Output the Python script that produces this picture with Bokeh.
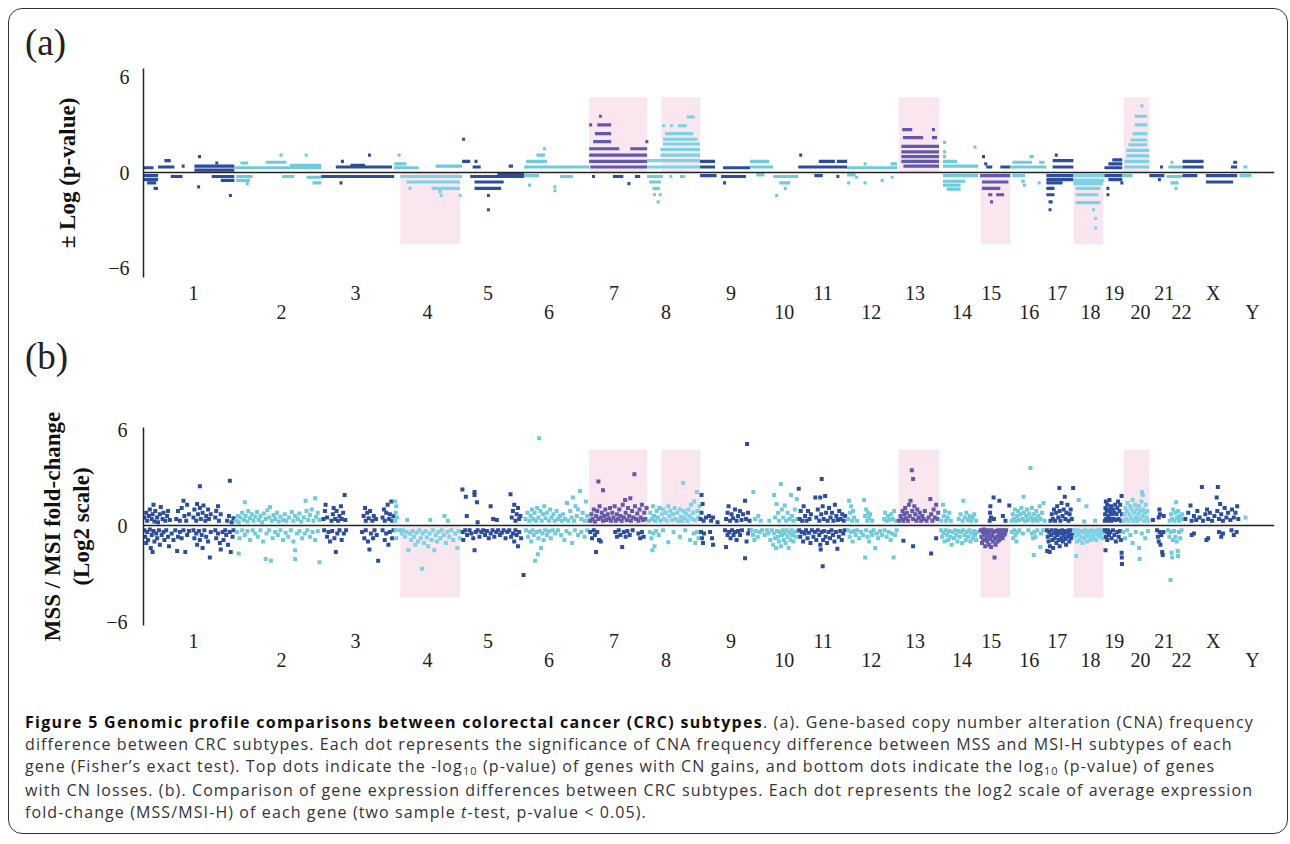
from bokeh.plotting import figure
from bokeh.models import Range1d, FixedTicker, LinearAxis, Span, Div
from bokeh.layouts import column
from bokeh.embed import file_html
from bokeh.resources import INLINE

# ---------------- data ----------------
CHROMS = ["1", "2", "3", "4", "5", "6", "7", "8", "9", "10", "11", "12",
          "13", "14", "15", "16", "17", "18", "19", "20", "21", "22", "X", "Y"]
CHROM_LEN = [249, 238, 200, 186, 170, 178, 159, 145, 137, 132, 134, 137,
             115, 107, 88, 99, 74, 85, 49, 74, 47, 44, 156, 33]
# where each chromosome's label sits, as % of the chromosome's span
LABEL_PCT = [55, 54, 47, 49, 42, 38, 43, 36, 62, 71, 51, 48,
             43, 59, 41, 53, 41, 55, 56, 67, 88, 94, 54, 108]
Y_TICKS = [-6, 0, 6]

# highlighted (pink) regions: chromosome, side, start %, end %
HL_CHROM = ["4", "7", "8", "13", "15", "18", "20"]
HL_SIGN = [-1, 1, 1, 1, -1, -1, 1]
HL_FROM = [9, 0, 27, 4, 8, 1, 5]
HL_TO = [97, 100, 100, 100, 100, 96, 100]
HL_TOP = 4.75
HL_BOTTOM = -4.5

# (a) CNA runs per chromosome: (start %, end %, +/- log p-value)
CNA_1 = [(0, 11, 0.3), (16, 34, 0.35), (23, 30, 0.75), (42, 43, 0.4), (56, 100, 0.15), (56, 100, 0.4),
         (60, 61, 1.0), (79, 81, 0.6), (0, 16, -0.2), (0, 16, -0.45), (4, 14, -0.65), (11, 16, -1.0),
         (30, 43, -0.25), (59, 60, -0.9), (75, 100, -0.25), (85, 100, -0.5), (94, 95, -1.45)]
CNA_2 = [(0, 100, 0.3), (7, 16, 0.6), (36, 60, 0.65), (52, 53, 1.1), (81, 82, 1.1), (64, 100, 0.45),
         (2, 21, -0.25), (2, 18, -0.5), (13, 14, -0.7), (55, 69, -0.25), (83, 100, -0.3), (90, 100, -0.65)]
CNA_3 = [(20, 97, 0.35), (40, 60, 0.45), (27, 28, 0.7), (64, 65, 1.1), (0, 100, -0.25), (25, 27, -0.65)]
CNA_4 = [(0, 36, 0.3), (0, 18, 0.55), (5, 6, 1.1), (61, 100, 0.4), (9, 100, -0.25), (18, 97, -0.6),
         (55, 97, -1.0), (65, 70, -1.2), (67, 68, -1.45), (95, 96, -1.45), (21, 22, -1.0)]
CNA_5 = [(0, 13, 0.7), (0, 1, 2.1), (17, 30, 0.35), (20, 21, 0.7), (75, 82, 0.4), (13, 100, -0.25),
         (20, 67, -0.6), (20, 63, -1.0), (40, 41, -1.45), (40, 41, -2.35), (57, 100, -0.12)]
CNA_6 = [(0, 100, 0.35), (3, 35, 0.7), (19, 32, 1.1), (29, 30, 1.5), (0, 23, -0.2), (6, 7, -0.8),
         (45, 46, -0.9), (45, 46, -1.15), (55, 75, -0.25)]
CNA_7 = [(17, 18, 3.55), (0, 1, 3.0), (14, 38, 3.0), (10, 38, 2.45), (7, 38, 1.95), (97, 99, 1.95),
         (0, 52, 1.5), (71, 100, 1.5), (0, 100, 1.1), (0, 100, 0.7), (2, 100, 0.35),
         (5, 6, -0.25), (41, 59, -0.25), (79, 88, -0.25), (66, 67, -0.7)]
CNA_8 = [(0, 100, 0.35), (0, 100, 0.75), (25, 100, 1.1), (25, 100, 1.45), (30, 100, 1.8), (30, 95, 2.1),
         (34, 87, 2.45), (28, 34, 2.95), (43, 49, 2.95), (58, 75, 2.95), (75, 90, 3.5),
         (0, 30, -0.25), (42, 47, -0.25), (62, 72, -0.25), (4, 26, -0.6), (10, 24, -1.0),
         (11, 13, -1.4), (22, 24, -1.4), (18, 19, -1.85)]
CNA_9 = [(0, 30, 0.7), (0, 30, 0.35), (46, 100, 0.3), (0, 33, -0.2), (42, 92, -0.25), (46, 47, -0.65)]
CNA_10 = [(0, 48, 0.35), (0, 40, 0.7), (13, 30, -0.15), (48, 100, -0.25), (61, 83, -0.65),
          (70, 71, -1.0), (52, 53, -1.45)]
CNA_11 = [(2, 3, 1.1), (0, 100, 0.35), (42, 75, 0.7), (79, 100, 0.7), (33, 50, -0.2), (78, 80, -0.25)]
CNA_12 = [(0, 100, 0.3), (33, 34, 0.55), (87, 100, 0.55), (0, 17, -0.15), (0, 1, -0.65), (16, 17, -0.3),
          (33, 34, -0.65), (67, 68, -0.5), (87, 88, -0.3)]
CNA_13 = [(12, 36, 2.7), (83, 90, 2.7), (14, 62, 2.2), (83, 95, 2.2), (10, 100, 1.65), (10, 100, 1.3),
          (10, 100, 1.0), (10, 100, 0.7), (15, 100, 0.4)]
CNA_14 = [(10, 11, 1.9), (10, 11, 1.3), (10, 15, 1.0), (10, 46, 0.7), (10, 100, 0.4), (88, 89, 1.6),
          (10, 100, -0.2), (10, 67, -0.55), (10, 55, -0.8), (20, 55, -1.05)]
CNA_15 = [(12, 13, 1.0), (19, 20, 0.55), (25, 44, 0.35), (69, 100, 0.35), (6, 100, -0.2), (12, 94, -0.6),
          (12, 69, -1.0), (31, 44, -1.4), (56, 81, -1.4), (37, 38, -1.85)]
CNA_16 = [(0, 100, 0.35), (6, 60, 0.65), (53, 65, 1.0), (80, 95, 0.65), (6, 41, -0.2), (30, 40, -0.55),
          (35, 36, -0.8), (76, 77, -0.65)]
CNA_17 = [(23, 100, 0.35), (23, 100, 0.75), (31, 32, 1.1), (0, 100, -0.2), (0, 100, -0.45), (0, 60, -0.65),
          (0, 30, -1.0), (0, 30, -1.4), (8, 23, -1.85), (8, 9, -2.35)]
CNA_18 = [(0, 100, -0.2), (0, 100, -0.5), (0, 95, -0.7), (7, 87, -1.0), (7, 80, -1.4), (7, 87, -1.9),
          (60, 61, -2.35), (67, 68, -2.9), (67, 68, -3.5)]
CNA_19 = [(0, 100, 0.3), (22, 100, 0.55), (44, 100, 0.8), (0, 100, -0.2), (22, 100, -0.45), (11, 12, -1.0),
          (11, 12, -1.4), (89, 90, -0.65)]
CNA_20 = [(8, 100, 0.35), (8, 100, 0.7), (15, 100, 1.05), (15, 100, 1.4), (23, 92, 1.75), (31, 92, 2.05),
          (38, 92, 2.45), (46, 92, 3.0), (46, 92, 3.55), (67, 72, 4.2), (0, 38, -0.2)]
CNA_21 = [(62, 63, 0.35), (0, 88, -0.2), (50, 51, -0.45)]
CNA_22 = [(12, 100, 0.35), (25, 26, 0.65), (0, 100, -0.25), (25, 75, -0.65), (50, 60, -1.0)]
CNA_X = [(0, 37, 0.35), (0, 37, 0.7), (85, 96, 0.35), (89, 96, 0.65), (0, 26, -0.2), (41, 96, -0.2),
         (41, 89, -0.6)]
CNA_Y = [(33, 66, 0.35), (0, 100, -0.2)]

# (b) expression fold-change dots per chromosome: (position %, log2 fold-change)
EXPR_1 = [(1, 0.5), (3, 0.8), (4, 0.3), (6, 0.6), (7, 1.0), (9, 0.4), (10, 0.7), (11, 1.3), (12, 0.25), (13, 0.9),
          (15, 0.5), (16, 0.2), (18, 0.7), (19, 1.15), (21, 0.4), (22, 0.8), (24, 0.3), (26, 0.6), (27, 0.9),
          (29, 0.35), (36, 0.4), (38, 0.9), (40, 0.3), (42, 1.1), (44, 1.55), (45, 0.6), (47, 0.3), (48, 1.3),
          (50, 0.7), (55, 0.5), (56, 1.0), (58, 0.3), (59, 1.35), (60, 0.7), (62, 2.45), (62, 1.1), (63, 0.4),
          (65, 0.8), (66, 1.25), (68, 0.3), (69, 0.6), (71, 1.0), (72, 0.4), (74, 0.7), (79, 0.5), (80, 0.9),
          (82, 1.2), (83, 0.3), (85, 0.7), (92, 0.3), (94, 0.6), (95, 2.8), (97, 0.2), (99, 0.45),
          (1, -0.3), (2, -0.7), (3, -1.1), (4, -0.4), (5, -0.9), (7, -0.25), (8, -1.4), (9, -0.6), (10, -1.65),
          (11, -0.35), (12, -1.0), (14, -0.5), (15, -0.8), (17, -0.3), (18, -1.2), (20, -0.6), (22, -0.4),
          (23, -0.9), (25, -0.3), (27, -0.7), (28, -1.3), (31, -0.5), (33, -0.9), (35, -0.3), (37, -1.6),
          (38, -0.7), (40, -0.4), (42, -0.8), (44, -0.3), (46, -1.65), (48, -0.6), (50, -0.35), (55, -0.3),
          (56, -0.8), (58, -0.5), (59, -1.2), (61, -0.35), (62, -0.9), (64, -0.6), (65, -1.4), (67, -0.3),
          (69, -0.7), (71, -1.0), (73, -2.0), (74, -0.4), (79, -0.3), (80, -0.8), (82, -0.5), (84, -1.1),
          (85, -1.5), (87, -0.4), (88, -0.9), (90, -0.3), (91, -0.6), (93, -1.2), (95, -0.4), (96, -1.65),
          (98, -0.7), (99, -0.3)]
EXPR_2 = [(2, 0.3), (4, 0.6), (5, 0.2), (7, 0.5), (9, 0.8), (11, 0.35), (12, 1.45), (13, 0.6), (15, 0.25),
          (16, 0.9), (18, 0.45), (20, 0.7), (22, 0.3), (24, 0.55), (26, 0.85), (28, 0.35), (30, 0.6), (32, 0.2),
          (34, 0.75), (36, 0.4), (38, 0.95), (40, 0.5), (41, 1.15), (43, 0.3), (45, 0.65), (47, 0.4), (49, 0.8),
          (51, 0.25), (53, 0.55), (56, 0.35), (58, 0.7), (60, 0.3), (63, 0.5), (66, 0.85), (68, 0.3), (70, 0.6),
          (73, 0.4), (75, 0.75), (77, 0.25), (80, 0.5), (82, 1.55), (83, 0.9), (85, 0.35), (87, 0.65), (89, 1.0),
          (91, 0.3), (93, 1.7), (94, 0.55), (96, 0.8), (98, 0.35),
          (3, -0.4), (5, -1.75), (6, -0.8), (9, -0.3), (12, -0.6), (15, -0.35), (18, -0.9), (21, -0.3),
          (24, -0.5), (27, -0.7), (30, -0.3), (33, -1.0), (36, -2.1), (37, -0.5), (40, -0.3), (42, -2.2),
          (44, -0.8), (47, -0.4), (50, -0.6), (53, -0.3), (56, -0.9), (59, -0.45), (62, -0.7), (65, -0.3),
          (68, -1.0), (70, -1.55), (70, -2.1), (72, -0.5), (75, -0.35), (78, -0.8), (81, -0.5), (84, -0.3),
          (87, -0.7), (90, -0.4), (93, -0.9), (96, -0.35), (98, -2.3)]
EXPR_3 = [(3, 0.4), (5, 0.9), (6, 1.3), (8, 0.5), (14, 0.3), (16, 0.7), (17, 1.1), (19, 0.4), (21, 0.9),
          (23, 0.3), (25, 0.6), (27, 1.2), (28, 0.4), (30, 0.8), (32, 1.9), (33, 0.35), (58, 0.6), (60, 1.1),
          (61, 0.3), (63, 0.8), (65, 0.45), (67, 0.9), (70, 0.3), (72, 0.6), (75, 0.4), (84, 0.5), (86, 1.0),
          (87, 0.3), (89, 0.8), (91, 1.3), (93, 0.4), (94, 0.7), (96, 1.5), (97, 0.3), (99, 0.6),
          (4, -0.3), (8, -0.7), (10, -0.4), (12, -1.0), (15, -0.35), (18, -0.8), (20, -1.65), (22, -0.5),
          (25, -0.3), (28, -0.9), (31, -0.5), (34, -0.3), (56, -0.4), (59, -0.8), (61, -0.3), (64, -1.0),
          (66, -1.5), (68, -0.5), (71, -0.8), (73, -0.3), (76, -0.6), (78, -2.2), (84, -0.3), (87, -0.9),
          (89, -0.5), (92, -1.2), (94, -0.4), (97, -0.8), (99, -0.3)]
EXPR_4 = [(1, 0.3), (2, 0.8), (3, 1.2), (4, 0.5), (1, 1.5), (19, 0.35), (53, 0.35), (74, 0.6), (79, 0.3),
          (2, -0.3), (3, -0.8), (8, -0.3), (11, -0.5), (13, -0.3), (16, -0.7), (18, -0.4), (21, -1.55),
          (23, -0.5), (25, -0.9), (27, -0.35), (29, -0.7), (31, -1.2), (33, -0.45), (35, -1.0), (37, -0.3),
          (39, -0.8), (41, -2.7), (42, -0.5), (44, -1.1), (46, -0.35), (48, -0.75), (50, -1.3), (52, -0.5),
          (55, -0.9), (57, -0.3), (59, -1.55), (61, -0.6), (63, -1.0), (65, -0.4), (68, -0.8), (70, -0.3),
          (73, -0.6), (76, -1.1), (78, -0.4), (81, -0.7), (84, -0.3), (87, -0.9), (90, -0.5), (93, -1.4),
          (95, -0.35), (97, -0.8)]
EXPR_5 = [(0.5, 2.25), (6, 1.8), (7.5, 0.6), (20, 2.1), (20, 1.9), (24, 1.45), (25, 0.2), (46, 1.2), (50, 0.4),
          (56, 0.35), (78, 1.95), (80, 0.5), (82, 0.9), (84, 1.3), (86, 0.3), (88, 0.7), (90, 1.1), (92, 0.4),
          (94, 0.6),
          (1, -0.4), (2, -0.9), (5, -0.3), (8, -0.6), (12, -0.3), (15, -0.5), (18, -0.8), (20, -1.55),
          (22, -0.4), (25, -0.3), (28, -0.7), (31, -0.4), (34, -0.3), (37, -0.6), (40, -0.35), (43, -0.8),
          (46, -0.5), (49, -0.3), (52, -0.7), (55, -0.4), (58, -0.3), (61, -0.6), (64, -0.45), (67, -0.3),
          (70, -0.8), (73, -0.4), (76, -0.3), (79, -0.7), (82, -0.5), (84, -1.0), (86, -0.3), (88, -0.6),
          (90, -1.3), (92, -0.4), (95, -0.8), (99, -3.1)]
EXPR_6 = [(2, 0.4), (5, 0.8), (8, 0.3), (10, 0.6), (12, 1.0), (14, 0.4), (16, 0.8), (18, 0.3), (20, 1.1),
          (22, 0.5), (23, 5.45), (25, 0.9), (27, 0.3), (29, 0.7), (31, 1.2), (33, 0.45), (35, 0.8), (38, 0.3),
          (40, 1.0), (42, 0.5), (45, 0.7), (47, 0.3), (50, 0.9), (52, 0.4), (55, 0.6), (58, 0.3), (60, 0.7),
          (63, 0.4), (66, 1.4), (68, 0.3), (71, 0.9), (73, 0.5), (75, 1.75), (77, 0.3), (79, 1.2), (81, 0.6),
          (83, 1.0), (86, 2.15), (88, 0.4), (90, 0.8), (93, 0.3), (95, 1.5), (97, 0.6), (99, 0.3),
          (3, -0.3), (6, -0.7), (9, -0.4), (11, -1.0), (13, -0.3), (15, -0.6), (17, -2.2), (19, -0.4),
          (21, -1.8), (22, -0.8), (24, -0.35), (26, -1.4), (28, -0.5), (30, -0.9), (32, -0.3), (35, -0.6),
          (38, -0.35), (41, -0.8), (44, -0.3), (48, -0.5), (52, -0.3), (57, -0.6), (62, -0.9), (65, -0.35),
          (70, -0.5), (74, -1.1), (78, -0.3), (83, -0.6), (88, -0.4), (93, -0.7), (97, -0.3)]
EXPR_7 = [(2, 0.3), (4, 0.7), (6, 0.4), (8, 1.0), (10, 0.25), (12, 0.6), (14, 0.9), (16, 2.75), (16, 0.4),
          (18, 1.2), (20, 0.5), (22, 0.8), (24, 2.2), (24, 0.3), (26, 0.6), (28, 1.0), (30, 0.35), (32, 0.7),
          (34, 0.45), (36, 1.1), (38, 0.3), (40, 0.8), (42, 0.5), (44, 1.2), (46, 0.3), (48, 0.7), (50, 0.4),
          (52, 1.0), (54, 0.6), (56, 0.3), (58, 1.3), (60, 0.5), (62, 1.6), (63, 0.8), (65, 0.35), (67, 1.1),
          (69, 0.6), (71, 1.7), (72, 0.3), (74, 0.9), (76, 0.5), (78, 3.2), (79, 1.2), (81, 0.4), (83, 0.75),
          (85, 0.3), (87, 1.0), (89, 0.5), (91, 1.3), (93, 0.35), (95, 0.8), (97, 0.4), (99, 1.1),
          (2, -0.4), (5, -0.8), (8, -0.3), (10, -0.6), (12, -1.65), (14, -0.4), (17, -0.9), (20, -1.0),
          (45, -0.4), (48, -0.7), (51, -0.3), (54, -0.6), (57, -1.35), (60, -0.4), (63, -0.7), (66, -0.35),
          (70, -0.6), (75, -0.3), (85, -0.5), (88, -0.8), (91, -0.4), (94, -0.7)]
EXPR_8 = [(3, 0.3), (6, 0.8), (9, 0.4), (11, 1.2), (13, 0.6), (15, 0.3), (18, 0.9), (20, 0.5), (23, 1.1),
          (25, 0.3), (28, 0.7), (30, 1.0), (32, 0.4), (35, 0.8), (37, 0.3), (40, 1.2), (42, 0.6), (44, 0.9),
          (47, 0.35), (49, 0.7), (52, 1.1), (54, 0.4), (57, 0.8), (59, 0.3), (62, 1.0), (64, 0.55), (66, 0.3),
          (68, 2.65), (69, 0.9), (71, 0.45), (73, 0.75), (76, 0.3), (78, 1.0), (80, 0.6), (83, 1.3), (85, 0.4),
          (87, 0.8), (89, 1.5), (91, 0.35), (94, 2.1), (95, 0.9), (97, 0.5), (99, 1.2),
          (5, -0.4), (8, -0.8), (10, -1.55), (12, -0.5), (14, -1.3), (17, -0.35), (22, -0.6), (30, -0.3),
          (40, -1.05), (50, -0.4), (62, -0.7), (72, -0.3), (81, -0.9), (88, -0.5), (91, -1.1), (94, -0.4),
          (97, -0.8)]
EXPR_9 = [(1, 0.4), (3, 1.9), (3, 0.8), (5, 1.35), (7, 0.3), (12, 0.5), (18, 0.6), (22, 0.3), (26, 0.5),
          (35, 0.2), (52, 0.4), (55, 0.8), (57, 1.2), (60, 0.3), (63, 0.7), (66, 0.45), (70, 1.0), (73, 0.3),
          (76, 0.6), (80, 0.9), (83, 0.35), (86, 0.7), (90, 1.55), (92, 0.4), (94, 5.1), (96, 0.8), (99, 0.3),
          (2, -0.4), (4, -0.8), (6, -1.1), (8, -0.5), (20, -0.4), (24, -0.8), (26, -1.2), (50, -0.3),
          (52, -1.35), (55, -0.6), (58, -0.4), (61, -0.8), (64, -0.3), (67, -0.6), (70, -0.4), (73, -0.9),
          (76, -0.35), (80, -0.6), (84, -0.3), (90, -2.05), (93, -1.0), (96, -0.5), (99, -0.3)]
EXPR_10 = [(7, 2.1), (10, 0.4), (17, 0.6), (22, 0.3), (40, 0.3), (50, 1.9), (52, 0.5), (55, 1.35), (58, 0.8),
           (60, 0.3), (64, 2.6), (66, 1.0), (69, 0.5), (72, 1.25), (75, 0.3), (78, 0.8), (82, 0.4), (85, 1.9),
           (87, 0.6), (90, 0.3), (93, 1.0), (97, 1.65), (98, 0.4),
           (3, -0.3), (6, -0.6), (9, -0.9), (12, -0.35), (16, -0.7), (20, -0.4), (25, -0.3), (30, -0.6),
           (35, -0.3), (38, -0.5), (42, -0.9), (45, -0.3), (48, -1.2), (50, -0.5), (52, -0.8), (54, -1.4),
           (56, -0.35), (58, -0.7), (60, -1.0), (62, -0.4), (64, -1.3), (66, -0.6), (68, -0.3), (70, -0.9),
           (72, -0.5), (74, -1.1), (76, -0.3), (78, -0.7), (80, -1.4), (82, -0.45), (84, -0.9), (86, -0.3),
           (88, -0.6), (90, -1.0), (92, -0.4), (95, -0.7), (98, -0.35)]
EXPR_11 = [(1, 2.3), (3, 0.4), (5, 0.9), (8, 0.3), (11, 1.2), (14, 0.6), (17, 0.3), (20, 0.9), (23, 0.4),
           (26, 0.7), (35, 1.75), (37, 0.5), (40, 1.0), (43, 0.3), (45, 1.75), (47, 0.7), (48, 2.9), (50, 1.2),
           (52, 0.4), (55, 1.85), (57, 0.8), (60, 0.3), (63, 1.1), (66, 0.5), (69, 0.8), (72, 0.3), (75, 1.3),
           (78, 0.6), (81, 0.35), (84, 0.9), (87, 0.4), (90, 0.7), (93, 0.3), (96, 0.6),
           (2, -0.3), (4, -0.7), (7, -0.4), (10, -1.0), (13, -0.5), (16, -0.3), (19, -0.8), (22, -0.45),
           (25, -1.1), (28, -0.3), (31, -0.7), (34, -0.4), (37, -0.9), (40, -0.3), (43, -0.6), (45, -1.2),
           (46, -1.5), (48, -0.4), (50, -2.55), (51, -0.9), (53, -0.35), (56, -0.7), (59, -1.1), (62, -0.4),
           (65, -0.8), (68, -0.3), (71, -0.6), (74, -1.0), (77, -0.4), (80, -1.45), (83, -0.7), (86, -0.35),
           (89, -0.9), (92, -0.5), (95, -0.3)]
EXPR_12 = [(2, 0.4), (4, 1.55), (6, 0.8), (8, 1.2), (10, 0.3), (12, 0.9), (14, 0.5), (20, 0.3), (34, 1.6),
           (36, 0.6), (38, 1.0), (40, 0.3), (42, 0.8), (44, 0.45), (46, 0.7), (50, 0.3), (74, 0.4), (76, 0.8),
           (79, 0.3), (82, 0.6), (85, 0.35), (88, 0.7), (91, 0.4), (94, 0.9), (97, 0.3),
           (2, -0.3), (5, -0.7), (8, -0.4), (11, -1.0), (14, -0.35), (17, -0.6), (20, -0.3), (24, -0.8),
           (28, -0.4), (32, -0.6), (36, -2.0), (38, -0.3), (41, -0.7), (44, -1.0), (47, -0.4), (50, -0.6),
           (53, -0.3), (56, -1.4), (59, -0.5), (62, -0.8), (66, -0.35), (70, -0.6), (75, -0.3), (79, -0.7),
           (83, -0.4), (87, -0.9), (90, -0.5), (93, -2.0), (96, -0.6), (99, -0.3)]
EXPR_13 = [(4, 0.3), (8, 0.6), (11, 0.4), (13, 0.9), (15, 0.3), (17, 0.7), (19, 1.1), (21, 0.45), (23, 0.8),
           (26, 0.3), (28, 1.3), (30, 0.6), (32, 1.55), (35, 3.45), (36, 0.9), (38, 2.9), (38, 0.4), (41, 1.2),
           (43, 0.7), (46, 0.3), (48, 1.0), (51, 0.5), (54, 0.8), (57, 0.3), (60, 0.6), (63, 0.4), (66, 0.9),
           (70, 0.3), (75, 0.5), (79, 1.65), (81, 0.7), (84, 0.3), (87, 1.0), (90, 0.5), (93, 1.3), (96, 0.4),
           (98, 0.8),
           (15, -0.95), (38, -1.3), (81, -1.75), (93, -0.8)]
EXPR_14 = [(6, 0.3), (10, 1.3), (12, 0.6), (15, 0.9), (18, 0.3), (22, 0.5), (26, 0.8), (30, 0.3), (50, 0.4),
           (55, 0.7), (60, 0.3), (62, 1.55), (66, 0.5), (70, 0.8), (74, 0.35), (78, 0.6), (82, 0.3), (86, 0.5),
           (90, 0.7), (95, 0.3),
           (5, -0.3), (8, -0.7), (11, -0.45), (14, -1.0), (17, -0.3), (20, -0.6), (23, -0.9), (26, -0.35),
           (29, -0.7), (32, -1.2), (35, -0.4), (38, -0.8), (41, -0.3), (44, -0.6), (47, -1.0), (50, -0.35),
           (53, -0.7), (56, -0.4), (59, -1.1), (62, -0.3), (65, -0.6), (68, -0.9), (71, -0.4), (74, -0.7),
           (77, -0.3), (80, -1.0), (83, -0.5), (86, -0.8), (89, -0.35), (92, -0.6), (95, -0.9), (98, -0.4)]
EXPR_15 = [(36, 0.3), (37, 0.8), (38, 1.2), (40, 0.5), (48, 1.75), (49, 0.4), (66, 1.55), (77, 0.6), (85, 0.3),
           (97, 1.25),
           (8, -0.3), (10, -0.7), (12, -1.1), (14, -0.4), (16, -0.9), (18, -0.25), (20, -0.6), (22, -1.3),
           (24, -0.4), (26, -0.8), (28, -1.0), (30, -0.3), (32, -0.6), (34, -1.2), (36, -0.45), (38, -0.85),
           (40, -1.35), (42, -0.3), (44, -0.65), (46, -1.0), (48, -0.4), (51, -2.0), (52, -0.8), (54, -1.2),
           (56, -0.35), (58, -0.7), (60, -1.0), (62, -0.3), (64, -0.6), (66, -0.9), (68, -0.4), (70, -0.75),
           (72, -0.3), (74, -0.55), (76, -0.8), (78, -0.3), (80, -0.6), (82, -0.4), (84, -0.5), (87, -0.3)]
EXPR_16 = [(4, 0.3), (7, 0.7), (10, 0.4), (13, 1.0), (16, 0.3), (19, 0.6), (22, 0.9), (25, 0.35), (28, 0.7),
           (31, 1.1), (34, 0.4), (37, 1.8), (38, 0.8), (41, 0.3), (44, 0.6), (47, 1.0), (50, 0.35), (53, 0.75),
           (56, 3.6), (57, 0.5), (60, 1.1), (63, 0.3), (66, 0.7), (69, 0.4), (72, 0.9), (75, 0.3), (78, 0.6),
           (81, 1.2), (84, 0.4), (88, 0.8), (92, 1.4), (95, 0.3),
           (5, -0.4), (8, -0.8), (11, -0.3), (14, -0.6), (17, -1.0), (20, -0.4), (25, -0.3), (35, -0.5),
           (50, -0.3), (60, -0.5), (63, -0.8), (65, -1.85), (67, -0.4), (70, -0.7), (75, -0.3), (83, -1.35),
           (85, -0.5), (90, -0.3)]
EXPR_17 = [(15, 0.3), (20, 0.7), (24, 0.4), (28, 1.0), (32, 0.3), (36, 0.8), (40, 1.2), (44, 0.5), (48, 2.35),
           (49, 0.9), (52, 0.3), (56, 1.4), (60, 0.6), (64, 1.0), (68, 1.8), (70, 0.4), (74, 0.8), (78, 1.3),
           (82, 0.3), (86, 0.7), (90, 1.0), (94, 0.4), (99, 2.35),
           (2, -0.3), (5, -0.7), (8, -1.0), (10, -0.4), (13, -1.3), (16, -0.6), (19, -0.3), (22, -0.9),
           (25, -1.4), (28, -0.5), (31, -0.8), (34, -0.3), (37, -1.1), (40, -0.6), (43, -0.35), (46, -0.9),
           (49, -1.3), (52, -0.5), (55, -0.8), (58, -0.3), (61, -1.0), (64, -0.6), (67, -0.35), (70, -0.85),
           (73, -1.2), (76, -0.45), (79, -0.7), (82, -0.3), (85, -1.0), (88, -0.55), (91, -0.8), (94, -0.3),
           (97, -0.6), (3, -1.6), (12, -1.65)]
EXPR_18 = [(17, 1.6), (35, 0.25), (42, 1.2), (70, 0.3),
           (2, -0.3), (5, -0.7), (8, -0.4), (9, -1.9), (11, -1.0), (14, -0.3), (17, -0.6), (20, -0.9),
           (23, -0.35), (26, -0.7), (29, -1.1), (32, -0.4), (35, -0.8), (38, -0.3), (41, -0.6), (44, -1.0),
           (47, -0.35), (50, -0.7), (53, -0.45), (56, -0.9), (59, -0.3), (62, -0.6), (65, -0.8), (68, -0.35),
           (71, -0.55), (74, -0.9), (77, -0.3), (80, -0.6), (83, -0.4), (86, -0.7), (89, -0.3), (92, -0.5),
           (95, -0.8), (98, -0.3)]
EXPR_19 = [(2, 0.3), (4, 0.7), (6, 1.1), (8, 1.5), (10, 0.4), (13, 0.9), (16, 1.3), (19, 0.3), (22, 0.6),
           (25, 1.0), (28, 1.6), (31, 0.4), (34, 0.8), (37, 1.2), (40, 0.3), (44, 0.7), (48, 1.0), (52, 0.4),
           (56, 0.8), (60, 1.3), (64, 0.35), (68, 0.7), (72, 1.1), (76, 1.5), (80, 0.4), (84, 0.9), (88, 1.3),
           (92, 0.3), (96, 1.85), (98, 0.7),
           (3, -0.3), (6, -1.55), (8, -0.7), (12, -0.4), (16, -0.9), (20, -0.3), (25, -0.6), (32, -0.4),
           (40, -0.8), (48, -0.3), (56, -0.6), (64, -1.0), (72, -0.4), (80, -0.7), (88, -0.35), (92, -0.9),
           (96, -1.7), (97, -2.0), (98, -2.4)]
EXPR_20 = [(5, 0.3), (8, 0.7), (11, 1.1), (14, 0.4), (17, 0.9), (20, 1.4), (23, 0.3), (26, 0.7), (29, 1.2),
           (32, 0.5), (35, 1.0), (38, 1.6), (41, 0.3), (44, 0.8), (47, 1.3), (50, 0.5), (53, 1.0), (56, 0.3),
           (59, 0.7), (62, 1.2), (65, 0.4), (68, 0.9), (71, 1.5), (73, 2.1), (75, 0.6), (76, 1.9), (78, 1.0),
           (81, 0.3), (84, 0.8), (87, 1.3), (90, 0.5), (93, 0.9), (96, 0.3),
           (3, -0.4), (10, -0.8), (18, -0.3), (30, -0.6), (38, -1.1), (50, -0.4), (62, -1.4), (64, -2.1),
           (72, -0.5), (85, -0.8), (95, -0.35)]
EXPR_21 = [(21, 0.35), (55, 0.5), (59, 1.0), (62, 0.7), (84, 0.6),
           (45, -0.3), (50, -0.7), (55, -1.0), (60, -0.4), (65, -1.2), (70, -0.6), (75, -1.65), (78, -1.85),
           (82, -0.4)]
EXPR_22 = [(20, 0.3), (28, 0.7), (35, 0.4), (42, 1.0), (50, 0.3), (56, 0.8), (60, 1.45), (66, 0.5), (72, 0.9),
           (78, 0.3), (84, 0.6), (92, 0.4), (98, 0.7),
           (10, -0.3), (18, -0.7), (25, -3.4), (28, -0.4), (32, -1.7), (36, -2.0), (40, -0.9), (48, -0.35),
           (56, -0.7), (64, -1.0), (70, -1.6), (72, -1.9), (78, -0.4), (86, -0.8), (94, -0.3)]
EXPR_X = [(5, 0.4), (10, 0.8), (14, 1.25), (16, 0.3), (20, 0.6), (24, 0.35), (26, 0.9), (30, 0.5), (34, 2.4),
          (36, 0.3), (40, 0.7), (43, 1.0), (45, 0.4), (48, 0.8), (52, 0.3), (56, 0.6), (60, 1.75), (61, 0.9),
          (62, 2.4), (64, 0.4), (66, 1.35), (68, 0.7), (71, 0.3), (74, 1.1), (77, 0.5), (80, 0.8), (84, 0.35),
          (87, 1.0), (90, 0.5), (93, 0.8), (96, 1.2), (98, 0.4),
          (16, -0.6), (20, -0.5), (42, -0.9), (45, -0.8), (64, -0.4), (68, -0.7), (71, -0.5), (86, -0.3),
          (90, -0.6), (95, -0.4)]
EXPR_Y = [(50, 0.5)]

CNA_RUNS = [CNA_1, CNA_2, CNA_3, CNA_4, CNA_5, CNA_6, CNA_7, CNA_8, CNA_9, CNA_10, CNA_11, CNA_12,
            CNA_13, CNA_14, CNA_15, CNA_16, CNA_17, CNA_18, CNA_19, CNA_20, CNA_21, CNA_22, CNA_X, CNA_Y]
EXPR_DOTS = [EXPR_1, EXPR_2, EXPR_3, EXPR_4, EXPR_5, EXPR_6, EXPR_7, EXPR_8, EXPR_9, EXPR_10, EXPR_11,
             EXPR_12, EXPR_13, EXPR_14, EXPR_15, EXPR_16, EXPR_17, EXPR_18, EXPR_19, EXPR_20, EXPR_21,
             EXPR_22, EXPR_X, EXPR_Y]

# ---------------- styles ----------------
DARK = "#2c4ca0"
CYAN = "#6dcbdc"
PURPLE = "#6259ad"
CYAN_HL = "#7ad3e6"
PINK = "#f9e6ef"
SERIF = "Liberation Serif"
W = 1278

TOTAL = float(sum(CHROM_LEN))
PX = TOTAL / 1108.0           # genome units per screen pixel
XMAX = TOTAL + 23 * PX
OFFS = []
acc = 0.0
for L in CHROM_LEN:
    OFFS.append(acc)
    acc += L


def in_hl(ci, pct, val):
    for n, s, a, b in zip(HL_CHROM, HL_SIGN, HL_FROM, HL_TO):
        if n == CHROMS[ci] and s * val > 0 and a <= pct <= b:
            return True
    return False


def colour(ci, pct, val):
    dark = (ci % 2 == 0)
    if in_hl(ci, pct, val):
        return PURPLE if dark else CYAN_HL
    return DARK if dark else CYAN


def add_pink(p):
    left, right, bottom, top = [], [], [], []
    for n, s, a, b in zip(HL_CHROM, HL_SIGN, HL_FROM, HL_TO):
        ci = CHROMS.index(n)
        left.append(OFFS[ci] + a / 100.0 * CHROM_LEN[ci])
        right.append(OFFS[ci] + b / 100.0 * CHROM_LEN[ci])
        bottom.append(0 if s > 0 else HL_BOTTOM)
        top.append(HL_TOP if s > 0 else 0)
    p.quad(left=left, right=right, bottom=bottom, top=top, fill_color=PINK, line_color=None)


def style_axes(p, ylabel, tick_standoff, label_standoff, row_standoffs):
    ya = p.yaxis[0]
    ya.ticker = FixedTicker(ticks=Y_TICKS)
    ya.axis_line_color = "#222"
    ya.axis_line_width = 1.5
    ya.major_tick_line_color = None
    ya.minor_tick_line_color = None
    ya.major_tick_in = 0
    ya.major_tick_out = 0
    ya.major_label_standoff = tick_standoff
    ya.major_label_text_font = SERIF
    ya.major_label_text_font_size = "20px"
    ya.major_label_text_color = "#222"
    ya.axis_label = ylabel
    ya.axis_label_text_font = SERIF
    ya.axis_label_text_font_style = "bold"
    ya.axis_label_text_font_size = "23px"
    ya.axis_label_text_color = "#111"
    ya.axis_label_standoff = label_standoff

    label_x = [int(round(OFFS[i] + LABEL_PCT[i] / 100.0 * CHROM_LEN[i])) for i in range(len(CHROMS))]
    rows = [p.xaxis[0], LinearAxis()]
    p.add_layout(rows[1], "below")
    for r, ax in enumerate(rows):
        ticks = [c for i, c in enumerate(label_x) if i % 2 == r]
        names = [n for i, n in enumerate(CHROMS) if i % 2 == r]
        ax.ticker = FixedTicker(ticks=ticks)
        ax.major_label_overrides = {t: n for t, n in zip(ticks, names)}
        ax.axis_line_color = None
        ax.major_tick_line_color = None
        ax.minor_tick_line_color = None
        ax.major_tick_in = 0
        ax.major_tick_out = 0
        ax.minor_tick_in = 0
        ax.minor_tick_out = 0
        ax.major_label_standoff = row_standoffs[r]
        ax.major_label_text_font = SERIF
        ax.major_label_text_font_size = "20px"
        ax.major_label_text_color = "#222"


def make_fig(height, ylo, yhi, mb_top, mb_bottom):
    p = figure(width=W, height=height, x_range=Range1d(0, XMAX), y_range=Range1d(ylo, yhi),
               output_backend="svg", toolbar_location=None, margin=0,
               min_border_left=134, min_border_right=13, min_border_top=mb_top, min_border_bottom=mb_bottom)
    p.xgrid.visible = False
    p.ygrid.visible = False
    p.outline_line_color = None
    add_pink(p)
    return p


# ---------------- panel (a) ----------------
pa = make_fig(271, -6.62, 6.56, 4, 58)
lft, rgt, yy, cc = [], [], [], []
for ci, runs in enumerate(CNA_RUNS):
    L = CHROM_LEN[ci]
    for s, e, v in runs:
        l = OFFS[ci] + s / 100.0 * L
        r = max(OFFS[ci] + e / 100.0 * L, l + 3 * PX)
        lft.append(l)
        rgt.append(r)
        yy.append(v)
        cc.append(colour(ci, (s + e) / 2.0, v))
pa.hbar(y=yy, left=lft, right=rgt, height=0.2, fill_color=cc, line_color=None)
pa.add_layout(Span(location=0, dimension="width", line_color="#222", line_width=1.6))
style_axes(pa, "\u00b1 Log (p-value)", 14, 25, [4, -6])

# ---------------- panel (b) ----------------
pb = make_fig(287, -6.25, 6.125, 39, 50)
xs, ys, cs = [], [], []
for ci, dots in enumerate(EXPR_DOTS):
    L = CHROM_LEN[ci]
    for pct, v in dots:
        xs.append(OFFS[ci] + pct / 100.0 * L)
        ys.append(v)
        cs.append(colour(ci, pct, v))
pb.scatter(x=xs, y=ys, marker="square", size=4.0, fill_color=cs, line_color=None)
pb.add_layout(Span(location=0, dimension="width", line_color="#222", line_width=1.6))
style_axes(pb, "(Log2 scale)", 16, 9, [4, -6])
outer = LinearAxis(ticker=FixedTicker(ticks=[]), axis_line_color=None, major_tick_out=0, major_tick_in=0,
                   major_label_standoff=0, axis_label="MSS / MSI fold-change", axis_label_standoff=2,
                   axis_label_text_font=SERIF, axis_label_text_font_style="bold",
                   axis_label_text_font_size="23px", axis_label_text_color="#111")
pb.add_layout(outer, "left")

# ---------------- panel letters and caption ----------------
div_a = Div(width=W, height=55, margin=0, text=(
    '<div style="position:relative;left:16px;top:15px;font-family:\'Liberation Serif\';'
    'font-size:37px;line-height:1;color:#222">(a)</div>'))
div_b = Div(width=W, height=53, margin=0, text=(
    '<div style="position:relative;left:16px;top:3px;font-family:\'Liberation Serif\';'
    'font-size:37px;line-height:1;color:#222">(b)</div>'))
SUB = '<span style="font-size:11px;position:relative;top:3px">10</span>'
caption = (
    '<div style="position:relative;left:16px;top:36px;font-family:\'Open Sans\';font-size:16px;'
    'letter-spacing:1.1px;line-height:22px;color:#333;white-space:nowrap">'
    '<b style="color:#111;letter-spacing:1.3px">Figure 5 Genomic profile comparisons between colorectal '
    'cancer (CRC) subtypes</b>. (a). Gene-based copy number alteration (CNA) frequency<br>'
    'difference between CRC subtypes. Each dot represents the significance of CNA frequency difference '
    'between MSS and MSI-H subtypes of each<br>'
    'gene (Fisher\u2019s exact test). Top dots indicate the -log' + SUB + ' (p-value) '
    'of genes with CN gains, and bottom dots indicate the log' + SUB + ' (p-value) of genes<br>'
    'with CN losses. (b). Comparison of gene expression differences between CRC subtypes. Each dot represents '
    'the log2 scale of average expression<br>'
    'fold-change (MSS/MSI-H) of each gene (two sample <i>t</i>-test, p-value &lt; 0.05).</div>')
div_c = Div(width=W, height=158, margin=0, text=caption)

layout = column(div_a, pa, div_b, pb, div_c, margin=(8, 0, 0, 8),
                styles={"border": "1px solid #333", "border-radius": "14px"})

open("out.html", "w").write(file_html(layout, INLINE))
